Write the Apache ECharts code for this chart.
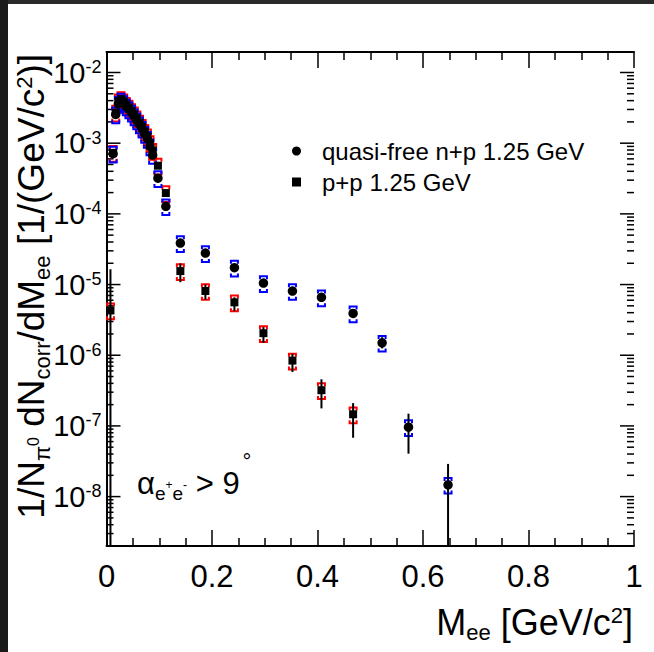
<!DOCTYPE html>
<html><head><meta charset="utf-8">
<script src="https://cdn.jsdelivr.net/npm/echarts@6/dist/echarts.min.js"></script>
<style>html,body{margin:0;padding:0;background:#fff;} #c{width:654px;height:652px;}</style>
</head><body><div id="c"></div>
<script>
const FONT = '"Liberation Sans", Arial, Helvetica, sans-serif';

// ---- data ----
const npName = 'quasi-free n+p 1.25 GeV';
const ppName = 'p+p 1.25 GeV';

const npX = [0.0125,0.0175,0.0225,0.0275,0.0325,0.0375,0.0425,0.0475,0.0525,0.0575,0.0625,0.0675,0.0725,0.0775,0.0825,0.0875,
             0.0975,0.1125,0.14,0.1875,0.2425,0.2975,0.3525,0.4075,0.4675,0.5225,0.5725,0.6475];
const npY = [7.1e-4,2.55e-3,3.6e-3,4.0e-3,3.7e-3,3.3e-3,3.0e-3,2.7e-3,2.4e-3,2.1e-3,1.85e-3,1.6e-3,1.35e-3,1.15e-3,9.0e-4,6.8e-4,
             3.2e-4,1.28e-4,3.86e-5,2.79e-5,1.73e-5,1.05e-5,8.1e-6,6.6e-6,3.9e-6,1.5e-6,9.6e-8,1.47e-8];
const npErrLo = [null,null,null,null,null,null,null,null,null,null,null,null,null,null,null,null,
             null,null,3.5e-5,2.6e-5,1.6e-5,9.6e-6,7.3e-6,5.8e-6,3.4e-6,1.25e-6,4.05e-8,1e-9];
const npErrHi = [null,null,null,null,null,null,null,null,null,null,null,null,null,null,null,null,
             null,null,4.2e-5,3.0e-5,1.85e-5,1.14e-5,8.9e-6,7.4e-6,4.4e-6,1.8e-6,1.49e-7,2.9e-8];

const ppX = [0.0075,0.0125,0.0175,0.0225,0.0275,0.0325,0.0375,0.0425,0.0475,0.0525,0.0575,0.0625,0.0675,0.0725,0.0775,0.0825,0.0875,
             0.0975,0.1125,0.14,0.1875,0.2425,0.2975,0.3525,0.4075,0.4675];
const ppY = [4.3e-6,7.3e-4,2.7e-3,3.9e-3,4.2e-3,3.9e-3,3.5e-3,3.2e-3,2.85e-3,2.55e-3,2.25e-3,1.95e-3,1.7e-3,1.45e-3,1.25e-3,1.0e-3,7.8e-4,
             4.8e-4,1.97e-4,1.55e-5,8.1e-6,5.6e-6,2.05e-6,8.4e-7,3.2e-7,1.46e-7];
const ppErrLo = [1e-9,null,null,null,null,null,null,null,null,null,null,null,null,null,null,null,null,
             null,null,1.08e-5,6.1e-6,4.2e-6,1.5e-6,5.8e-7,1.77e-7,6.8e-8];
const ppErrHi = [1.64e-5,null,null,null,null,null,null,null,null,null,null,null,null,null,null,null,null,
             null,null,1.99e-5,1.0e-5,6.6e-6,2.5e-6,1.05e-6,4.57e-7,2.1e-7];

const sysFrac = 0.25;           // relative systematic uncertainty (brackets)
const xTickValues = [0, 0.2, 0.4, 0.6, 0.8, 1];
const yMin = 2e-9, yMax = 0.0195;
const yDecadeExps = [-9,-8,-7,-6,-5,-4,-3,-2];
const minorMultipliers = [2,3,4,5,6,7,8,9];

// ---- helpers ----
const pairs = (xs, ys) => xs.map((x, i) => [x, ys[i]]);
const errData = (xs, lo, hi) => xs.map((x, i) => [x, lo[i], hi[i]]).filter(d => d[1] != null);
const yTickVals = [];   // [0, value, length]
yDecadeExps.forEach(e => {
  const d = Math.pow(10, e);
  if (d > yMin && d < yMax) yTickVals.push([0, d, 14]);
  minorMultipliers.forEach(m => {
    const v = m * d;
    if (v > yMin && v < yMax) yTickVals.push([0, v, 7]);
  });
});

function errRender(params, api) {
  const x = api.value(0), lo = api.value(1), hi = api.value(2);
  const cs = params.coordSys;
  const pHi = api.coord([x, hi]), pLo = api.coord([x, lo]);
  const yb = Math.min(pLo[1], cs.y + cs.height);
  return {type: 'line', shape: {x1: pHi[0], y1: pHi[1], x2: pHi[0], y2: yb},
          style: {stroke: '#000', lineWidth: 2}};
}
function sysRender(color) {
  return function (params, api) {
    const x = api.value(0), v = api.value(1);
    const ph = api.coord([x, v * (1 + sysFrac)]);
    const pl = api.coord([x, v * (1 - sysFrac)]);
    const w = 3.5, h = 3;
    return {type: 'group', children: [
      {type: 'polyline', shape: {points: [[ph[0]-w, ph[1]+h],[ph[0]-w, ph[1]],[ph[0]+w, ph[1]],[ph[0]+w, ph[1]+h]]},
       style: {stroke: color, lineWidth: 2, fill: null}},
      {type: 'polyline', shape: {points: [[pl[0]-w, pl[1]-h],[pl[0]-w, pl[1]],[pl[0]+w, pl[1]],[pl[0]+w, pl[1]-h]]},
       style: {stroke: color, lineWidth: 2, fill: null}}
    ]};
  };
}
function yTickRender(params, api) {
  const cs = params.coordSys;
  const p = api.coord([0, api.value(1)]);
  const L = api.value(2), x0 = cs.x, x1 = cs.x + cs.width;
  return {type: 'group', children: [
    {type: 'line', shape: {x1: x0, y1: p[1], x2: x0 + L, y2: p[1]}, style: {stroke: '#000', lineWidth: 1.5}},
    {type: 'line', shape: {x1: x1 - L, y1: p[1], x2: x1, y2: p[1]}, style: {stroke: '#000', lineWidth: 1.5}}
  ]};
}

const chart = echarts.init(document.getElementById('c'), null, {renderer: 'svg'});
const axisLine = {show: true, lineStyle: {color: '#000', width: 2}};
const xCommon = {type: 'value', min: 0, max: 1, interval: 0.2, axisLine,
  axisTick: {show: true, inside: true, length: 16, lineStyle: {color: '#000', width: 1.5}},
  minorTick: {show: true, splitNumber: 4, length: 8, lineStyle: {color: '#000', width: 1.5}},
  splitLine: {show: false}};
const yCommon = {type: 'log', logBase: 10, min: yMin, max: yMax, splitNumber: 7, axisLine,
  axisTick: {show: false}, splitLine: {show: false}, minorTick: {show: false}};

chart.setOption({
  animation: false,
  backgroundColor: '#fff',
  textStyle: {fontFamily: FONT},
  grid: {left: 106.5, right: 20, top: 52, bottom: 106, containLabel: false},
  xAxis: [
    Object.assign({}, xCommon, {position: 'bottom',
      axisLabel: {show: true, margin: 15, fontSize: 31, color: '#000', fontFamily: FONT,
        formatter: v => (xTickValues.some(t => Math.abs(t - v) < 1e-9) ? String(+v.toFixed(1)) : '')}}),
    Object.assign({}, xCommon, {position: 'top', axisLabel: {show: false}})
  ],
  yAxis: [
    Object.assign({}, yCommon, {position: 'left',
      axisLabel: {show: true, margin: 5, color: '#000', fontFamily: FONT,
        formatter: v => {
          const e = Math.log10(v);
          if (Math.abs(e - Math.round(e)) > 1e-6) return '';
          return '{b|10}{s|' + Math.round(e) + '}';
        },
        rich: {
          b: {fontSize: 29, lineHeight: 29, verticalAlign: 'bottom', fontFamily: FONT, color: '#000'},
          s: {fontSize: 18, lineHeight: 18, verticalAlign: 'top', padding: [0, 0, 14, 0], fontFamily: FONT, color: '#000'}
        }}}),
    Object.assign({}, yCommon, {position: 'right', axisLabel: {show: false}})
  ],
  legend: {
    show: true, orient: 'vertical', left: 287, top: 134, itemGap: 7, itemWidth: 9, itemHeight: 9,
    data: [{name: npName, icon: 'circle'}, {name: ppName, icon: 'rect'}],
    textStyle: {fontSize: 24, lineHeight: 24, color: '#000', fontFamily: FONT, padding: [0, 0, 0, 16]},
    selectedMode: false
  },
  series: [
    {type: 'custom', name: 'yTicks', coordinateSystem: 'cartesian2d', renderItem: yTickRender, data: yTickVals, silent: true, clip: false},
    {type: 'custom', name: 'ppSys', renderItem: sysRender('#ff0000'), data: pairs(ppX, ppY), silent: true},
    {type: 'custom', name: 'npSys', renderItem: sysRender('#0000ff'), data: pairs(npX, npY), silent: true},
    {type: 'custom', name: 'ppErr', renderItem: errRender, data: errData(ppX, ppErrLo, ppErrHi), silent: true},
    {type: 'custom', name: 'npErr', renderItem: errRender, data: errData(npX, npErrLo, npErrHi), silent: true},
    {type: 'scatter', name: ppName, symbol: 'rect', symbolSize: 8, itemStyle: {color: '#000', opacity: 1}, data: pairs(ppX, ppY), silent: true},
    {type: 'scatter', name: npName, symbol: 'circle', symbolSize: 9.5, itemStyle: {color: '#000', opacity: 1}, data: pairs(npX, npY), silent: true}
  ],
  graphic: [
    {type: 'rect', left: 0, top: 0, shape: {width: 654, height: 4}, style: {fill: '#2a2a2a'}, silent: true},
    {type: 'rect', left: 0, top: 0, shape: {width: 8, height: 652}, style: {fill: '#1a1a1a'}, silent: true},
    {type: 'text', x: 30, y: 54, rotation: Math.PI / 2, silent: true,
      style: {text: '{n|1/N}{sb|π}{z|0}{n| dN}{sb|corr}{n|/dM}{sb|ee}{n| [1/(GeV/c}{sp|2}{n|)]}',
        align: 'right', verticalAlign: 'middle', fill: '#000', font: '37px ' + FONT,
        rich: {
          n: {fontSize: 37, lineHeight: 34, verticalAlign: 'top', fontFamily: FONT, fill: '#000'},
          sb: {fontSize: 22, lineHeight: 22, verticalAlign: 'top', padding: [18, 0, 0, 0], fontFamily: FONT, fill: '#000'},
          z: {fontSize: 16, lineHeight: 16, verticalAlign: 'top', padding: [12, 0, 0, 0], fontFamily: FONT, fill: '#000'},
          sp: {fontSize: 22, lineHeight: 22, verticalAlign: 'top', fontFamily: FONT, fill: '#000'}
        }}},
    {type: 'text', x: 633, y: 622, silent: true,
      style: {text: '{n|M}{sb|ee}{n| [GeV/c}{sp|2}{n|]}', align: 'right', verticalAlign: 'middle', fill: '#000',
        font: '36px ' + FONT,
        rich: {
          n: {fontSize: 36, lineHeight: 36, verticalAlign: 'top', fontFamily: FONT, fill: '#000'},
          sb: {fontSize: 22, lineHeight: 22, verticalAlign: 'top', padding: [17, 0, 0, 0], fontFamily: FONT, fill: '#000'},
          sp: {fontSize: 22, lineHeight: 22, verticalAlign: 'top', fontFamily: FONT, fill: '#000'}
        }}},
    {type: 'text', x: 137, y: 485, silent: true,
      style: {text: '{a|α}{e|e}{t|+}{e|e}{t|-}{a| > 9}', align: 'left', verticalAlign: 'middle', fill: '#000',
        font: '30px ' + FONT,
        rich: {
          a: {fontSize: 31, lineHeight: 30, verticalAlign: 'top', fontFamily: FONT, fill: '#000'},
          e: {fontSize: 19, lineHeight: 18, verticalAlign: 'bottom', fontFamily: FONT, fill: '#000'},
          t: {fontSize: 12, lineHeight: 35, verticalAlign: 'middle', fontFamily: FONT, fill: '#000'}
        }}},
    {type: 'text', x: 247, y: 461, silent: true,
      style: {text: '°', align: 'center', verticalAlign: 'middle', fill: '#000', font: '22px ' + FONT}}
  ]
});
</script></body></html>
